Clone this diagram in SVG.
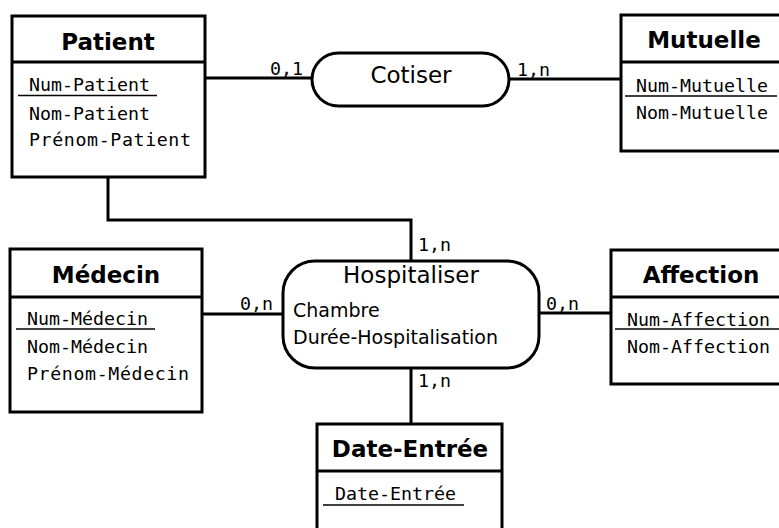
<svg xmlns="http://www.w3.org/2000/svg" width="779" height="528" viewBox="0 0 779 528">
<style>
.box{fill:#fff;stroke:#000;stroke-width:3}
.div{stroke:#000;stroke-width:3}
.ul{stroke:#000;stroke-width:1.5}
.conn{fill:none;stroke:#000;stroke-width:3}
.title{font-family:"DejaVu Sans","Liberation Sans",sans-serif;font-weight:bold;font-size:23px;text-anchor:middle;fill:#000}
.attr{font-family:"DejaVu Sans Mono","Liberation Mono",monospace;font-size:18.3px;fill:#000}
.card{font-family:"DejaVu Sans Mono","Liberation Mono",monospace;font-size:18.3px;fill:#000}
.rel{font-family:"DejaVu Sans","Liberation Sans",sans-serif;font-size:23px;text-anchor:middle;fill:#000}
.relattr{font-family:"DejaVu Sans","Liberation Sans",sans-serif;font-size:19px;fill:#000}
</style>
<rect width="779" height="528" fill="#fff"/>
<g id="connectors">
<path class="conn" d="M205,78 H313"/>
<path class="conn" d="M509,79 H621"/>
<path class="conn" d="M108,177 V220 H411 V261"/>
<path class="conn" d="M202,314 H283"/>
<path class="conn" d="M539,313 H611"/>
<path class="conn" d="M411,368 V424"/>
<text class="card" x="270" y="75">0,1</text>
<text class="card" x="517" y="76">1,n</text>
<text class="card" x="418" y="251">1,n</text>
<text class="card" x="240" y="310">0,n</text>
<text class="card" x="546" y="310">0,n</text>
<text class="card" x="418" y="387">1,n</text>
</g>
<g id="patient">
<rect class="box" x="12" y="16" width="193" height="161"/>
<line class="div" x1="12" y1="62" x2="205" y2="62"/>
<text class="title" x="108" y="50">Patient</text>
<text class="attr" x="29" y="91">Num-Patient</text>
<line class="ul" x1="18" y1="95.5" x2="157" y2="95.5"/>
<text class="attr" x="29" y="120">Nom-Patient</text>
<text class="attr" x="29" y="146" textLength="162" lengthAdjust="spacing">Prénom-Patient</text>
</g>
<g id="cotiser">
<rect class="box" x="312" y="53" width="197" height="53" rx="26.5"/>
<text class="rel" x="411" y="83">Cotiser</text>
</g>
<g id="mutuelle">
<rect class="box" x="621" y="15" width="190" height="136"/>
<line class="div" x1="621" y1="62" x2="790" y2="62"/>
<text class="title" x="704" y="48">Mutuelle</text>
<text class="attr" x="636" y="92">Num-Mutuelle</text>
<line class="ul" x1="625" y1="96" x2="777" y2="96"/>
<text class="attr" x="636" y="119">Nom-Mutuelle</text>
</g>
<g id="hospitaliser">
<rect class="box" x="283" y="261" width="256" height="107" rx="32"/>
<text class="rel" x="411" y="283">Hospitaliser</text>
<text class="relattr" x="293" y="317">Chambre</text>
<text class="relattr" x="293" y="344">Durée-Hospitalisation</text>
</g>
<g id="medecin">
<rect class="box" x="10" y="249" width="192" height="163"/>
<line class="div" x1="10" y1="297" x2="202" y2="297"/>
<text class="title" x="106" y="283">Médecin</text>
<text class="attr" x="27" y="325">Num-Médecin</text>
<line class="ul" x1="16" y1="329" x2="155" y2="329"/>
<text class="attr" x="27" y="353">Nom-Médecin</text>
<text class="attr" x="27" y="380" textLength="162" lengthAdjust="spacing">Prénom-Médecin</text>
</g>
<g id="affection">
<rect class="box" x="611" y="250" width="200" height="134"/>
<line class="div" x1="611" y1="297" x2="790" y2="297"/>
<text class="title" x="701" y="283">Affection</text>
<text class="attr" x="627" y="326">Num-Affection</text>
<line class="ul" x1="615" y1="329" x2="779" y2="329"/>
<text class="attr" x="627" y="353">Nom-Affection</text>
</g>
<g id="date-entree">
<rect class="box" x="317" y="424" width="185" height="120"/>
<line class="div" x1="317" y1="471" x2="502" y2="471"/>
<text class="title" x="410" y="457">Date-Entrée</text>
<text class="attr" x="335" y="500">Date-Entrée</text>
<line class="ul" x1="323" y1="505" x2="464" y2="505"/>
</g>
</svg>
